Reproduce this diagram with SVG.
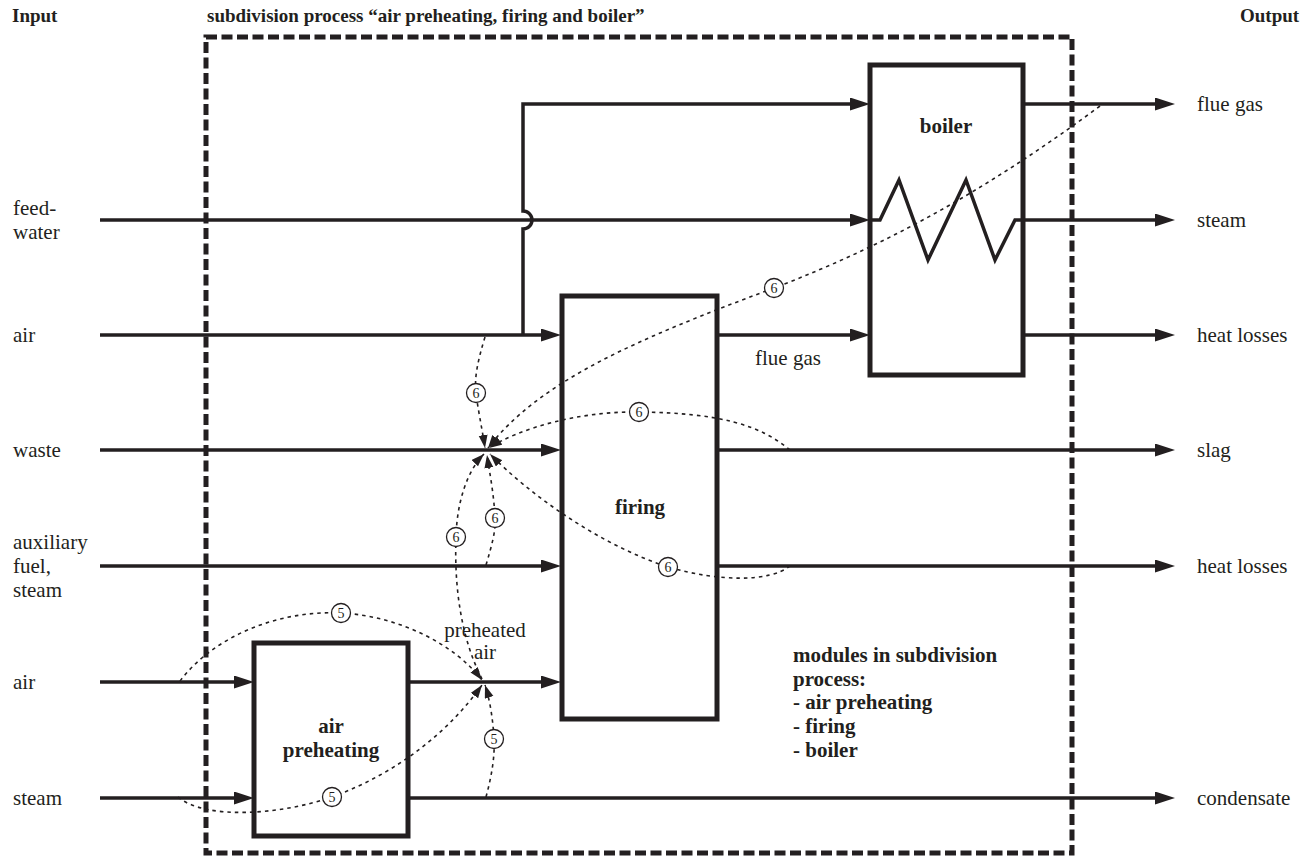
<svg xmlns="http://www.w3.org/2000/svg" width="1307" height="856" viewBox="0 0 1307 856">
<style>
text{font-family:"Liberation Serif","Times New Roman",serif;font-size:21px;fill:#231f20}
.b{font-weight:bold}
.h{font-size:19px}
.m{text-anchor:middle}
.box{fill:#fff;stroke:#231f20;stroke-width:5}
.flow{fill:none;stroke:#231f20;stroke-width:3.5}
.out{fill:none;stroke:#231f20;stroke-width:3.5;marker-end:url(#ah)}
.dot{fill:none;stroke:#231f20;stroke-width:1.6;stroke-dasharray:3.5 4}
.da{marker-end:url(#dh)}
.frame{fill:none;stroke:#231f20;stroke-width:5;stroke-dasharray:11 4.5}
.c circle{fill:#fff;stroke:#231f20;stroke-width:1.3}
.c text{font-size:14px;text-anchor:middle}
</style>
<defs>
<marker id="ah" markerUnits="userSpaceOnUse" markerWidth="22" markerHeight="14" refX="10" refY="6.5" orient="auto"><path d="M0,0 L20,6.5 L0,13 z" fill="#231f20"/></marker>
<marker id="dh" markerUnits="userSpaceOnUse" markerWidth="14" markerHeight="10" refX="13" refY="4.5" orient="auto"><path d="M0,0 L13,4.5 L0,9 z" fill="#231f20"/></marker>
</defs>
<rect width="1307" height="856" fill="#fff"/>
<g id="frame">
<rect class="frame" x="206" y="37" width="866" height="816"/>
<text class="b h" x="207" y="22">subdivision process “air preheating, firing and boiler”</text>
</g>
<g id="labels-input">
<text class="b h" x="12" y="22">Input</text>
<text x="13" y="215">feed-</text><text x="13" y="239">water</text>
<text x="13" y="342">air</text>
<text x="13" y="457">waste</text>
<text x="13" y="549">auxiliary</text><text x="13" y="573">fuel,</text><text x="13" y="597">steam</text>
<text x="13" y="689">air</text>
<text x="13" y="805">steam</text>
</g>
<g id="labels-output">
<text class="b h" x="1240" y="22">Output</text>
<text x="1197" y="111">flue gas</text>
<text x="1197" y="227">steam</text>
<text x="1197" y="342">heat losses</text>
<text x="1197" y="457">slag</text>
<text x="1197" y="573">heat losses</text>
<text x="1197" y="805">condensate</text>
</g>
<g id="boiler">
<rect class="box" x="870" y="65" width="153" height="310"/>
<path class="flow" d="M870,220 H880 L899,180 L928,260 L966,180 L995,260 L1015,220 H1023"/>
<text class="b m" x="946" y="133">boiler</text>
</g>
<g id="firing">
<rect class="box" x="562" y="296" width="155" height="423"/>
<text class="b m" x="640" y="514">firing</text>
</g>
<g id="air-preheating">
<rect class="box" x="254" y="643" width="154" height="193"/>
<text class="b m" x="331" y="733">air</text>
<text class="b m" x="331" y="757">preheating</text>
</g>
<g id="modules-note">
<text class="b" x="793" y="662">modules in subdivision</text>
<text class="b" x="793" y="686">process:</text>
<text class="b" x="793" y="709">- air preheating</text>
<text class="b" x="793" y="733">- firing</text>
<text class="b" x="793" y="757">- boiler</text>
</g>
<g id="connectors">
<path class="out" d="M100,335 H551"/>
<path class="out" d="M523,335 V229 A9,9 0 0 0 523,211 V104 H860"/>
<path class="out" d="M100,220 H860"/>
<path class="out" d="M1023,104 H1165"/>
<path class="out" d="M1023,220 H1165"/>
<path class="out" d="M717,335 H860"/>
<path class="out" d="M1023,335 H1165"/>
<path class="out" d="M100,450 H551"/>
<path class="out" d="M717,450 H1165"/>
<path class="out" d="M100,566 H551"/>
<path class="out" d="M717,566 H1165"/>
<path class="out" d="M100,682 H244"/>
<path class="out" d="M408,682 H551"/>
<path class="out" d="M100,798 H244"/>
<path class="out" d="M408,798 H1165"/>
<text x="755" y="365">flue gas</text>
<text class="m" x="485" y="637">preheated</text>
<text class="m" x="485" y="659">air</text>
<g id="energy-flows">
<path class="dot da" d="M485,337 C478,360 474,378 476,393 C478,410 482,428 485,448"/>
<path class="dot da" d="M1100,106 C1000,180 900,240 774,288 C640,338 540,380 488,448"/>
<path class="dot da" d="M790,450 C760,425 720,413 639,412 C580,411 520,428 489,448"/>
<path class="dot da" d="M790,566 C770,582 720,582 668,567 C600,545 530,495 490,454"/>
<path class="dot da" d="M486,565 C492,545 496,530 495,518 C494,495 490,475 487,455"/>
<path class="dot da" d="M482,679 C462,640 454,590 456,537 C457,500 468,470 484,454"/>
<path class="dot da" d="M180,681 C215,635 280,610 341,613 C400,616 455,645 482,680"/>
<path class="dot da" d="M178,797 C205,820 280,815 332,797 C400,772 450,730 482,685"/>
<path class="dot da" d="M486,797 C492,775 495,755 494,739 C493,720 490,700 485,685"/>
</g>
<g class="c">
<circle cx="476" cy="393" r="9.5"/><text x="476" y="398">6</text>
<circle cx="774" cy="288" r="9.5"/><text x="774" y="293">6</text>
<circle cx="639" cy="412" r="9.5"/><text x="639" y="417">6</text>
<circle cx="668" cy="567" r="9.5"/><text x="668" y="572">6</text>
<circle cx="495" cy="518" r="9.5"/><text x="495" y="523">6</text>
<circle cx="456" cy="537" r="9.5"/><text x="456" y="542">6</text>
<circle cx="341" cy="613" r="9.5"/><text x="341" y="618">5</text>
<circle cx="332" cy="797" r="9.5"/><text x="332" y="802">5</text>
<circle cx="494" cy="739" r="9.5"/><text x="494" y="744">5</text>
</g>
</g>
</svg>
